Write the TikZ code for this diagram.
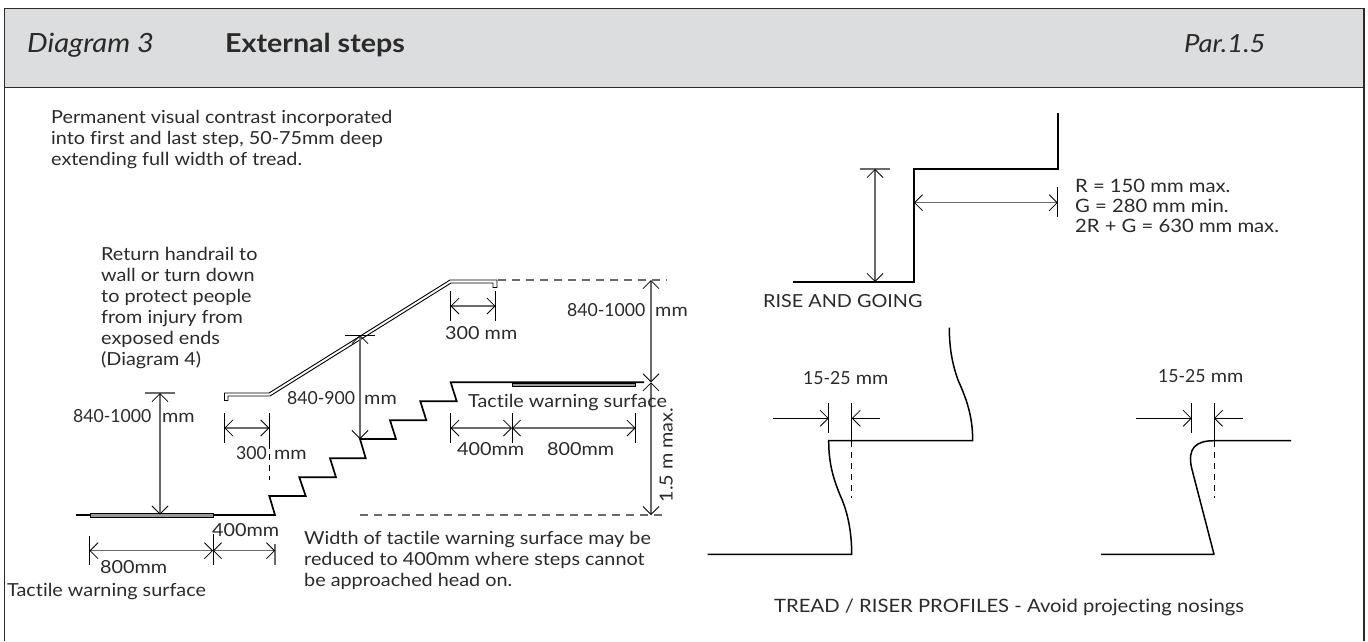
\documentclass[tikz,border=0pt]{standalone}
\usepackage{fontspec}
\setmainfont[FakeStretch=1.1,Ligatures=NoCommon]{Lato}
\newfontfamily\numfont[FakeStretch=0.98]{Lato}
\usetikzlibrary{arrows.meta}
\definecolor{headgrey}{HTML}{DCDDDE}
\definecolor{ink}{HTML}{2B2A29}
\definecolor{dimgrey}{HTML}{6A6A6A}
\tikzset{
  lbl/.style={anchor=west,inner sep=0pt,text=ink,font=\fontsize{18}{21}\selectfont,text height=13pt,text depth=0pt},
  multi/.style={anchor=north west,inner sep=0pt,text=ink,font=\fontsize{18}{21}\selectfont,align=left},
  heavy/.style={line width=1.7pt,black,line join=miter},
  thinblk/.style={line width=.8pt,black},
  dimln/.style={line width=1.2pt,dimgrey},
  tipb/.tip={Straight Barb[length=8pt,width=16pt,line width=.8pt,color=black]},
  dashln/.style={line width=1.2pt,dimgrey,dash pattern=on 8pt off 6pt},
  shortdash/.style={line width=.8pt,black,dash pattern=on 6pt off 5pt},
  strip/.style={draw=black,line width=.8pt,fill=gray!80},
  headtxt/.style={anchor=west,inner sep=0pt,text=ink,text height=18pt,text depth=0pt},
}
\begin{document}
\begin{tikzpicture}[x=1pt,y=-1pt]
\useasboundingbox (0,0) rectangle (1368,641);
% frame and header
\fill[headgrey] (4.5,8.5) rectangle (1364,87.5);
\draw[line width=1.2pt,ink] (4.5,641) -- (4.5,8.5) -- (1364,8.5) -- (1364,641);
\draw[line width=1.2pt,ink] (4.5,87.5) -- (1364,87.5);
\node[headtxt,font=\fontsize{26.5}{30}\selectfont\itshape] (hd) at (27,43) {Diagram 3};
\node[headtxt,font=\fontsize{26}{30}\selectfont\bfseries] (ti) at (225,43) {External steps};
\node[headtxt,font=\fontsize{25}{30}\selectfont\itshape] (pr) at (1184,43) {Par.1.5};
% top-left notes
\node[multi] (n1) at (51,110) {Permanent visual contrast incorporated\\into first and last step, 50-75mm deep\\extending full width of tread.};
\node[multi] (n2) at (101,247) {Return handrail to\\wall or turn down\\to protect people\\from injury from\\exposed ends\\(Diagram 4)};
\node[multi] (n3) at (304,531.5) {Width of tactile warning surface may be\\reduced to 400mm where steps cannot\\be approached head on.};
% steps
\draw[heavy] (76,515) -- (275,515) -- (269.3,496) -- (305.7,496) -- (299.3,477.3) -- (336,477.3) -- (330,458.3) -- (365.7,458.3) -- (360,439) -- (396,439) -- (390,420.3) -- (426.3,420.3) -- (420.3,401.3) -- (456.7,401.3) -- (450.7,382.3) -- (644,382.3);
\draw[strip] (90,513.5) rectangle (213,517.5);
\draw[strip] (512.3,383) rectangle (635,386.5);
% handrail
\draw[line width=.9pt,black,fill=white] (224.5,393) -- (269,393) -- (450,280) -- (497,280) -- (497,287.5) -- (493,287.5) -- (493,283) -- (451,283) -- (270,396) -- (228,396) -- (228,400.5) -- (224.5,400.5) -- cycle;
% dashed extensions
\draw[dashln] (498,280) -- (667,280);
\draw[dashln] (360,515) -- (667,515);
\draw[shortdash] (269.5,443) -- (269.5,480);
% left 840-1000
\draw[dimln] (145,393) -- (175,393);
\draw[dimln,{tipb}-{tipb}] (160,393) -- (160,514.5);
\node[lbl] (a1) at (73,415.5) {\numfont 840-1000};
\node[lbl] (a2) at (162,415.5) {mm};
% left 300
\draw[thinblk] (224.3,413) -- (224.3,443) (269.3,413) -- (269.3,443);
\draw[dimln,{tipb}-{tipb}] (224.3,428) -- (269.3,428);
\node[lbl] (b1) at (236,453) {\numfont 300};
\node[lbl] (b2) at (274,453) {mm};
% lower 800 / 400
\draw[thinblk] (89.5,536) -- (89.5,565) (213,534) -- (213,565);
\draw[dimln] (275,544) -- (275,565);
\draw[dimln,{tipb}-{tipb}] (89.5,550.7) -- (213,550.7);
\draw[dimln,{tipb}-{tipb}] (213,550.7) -- (275,550.7);
\node[lbl] (c1) at (212,530) {400mm};
\node[lbl] (c2) at (100,567) {800mm};
\node[lbl] (c3) at (7,590) {Tactile warning surface};
% 840-900
\draw[thinblk] (345,335) -- (375,335);
\draw[dimln,{tipb}-{tipb}] (360,335) -- (360,439);
\node[lbl] (d1) at (287,397.5) {\numfont 840-900};
\node[lbl] (d2) at (364,397.5) {mm};
% upper 300
\draw[thinblk] (450.5,291) -- (450.5,321) (495.5,291) -- (495.5,321);
\draw[dimln,{tipb}-{tipb}] (450.5,306) -- (495.5,306);
\node[lbl] (e1) at (445,333) {300 mm};
% right 840-1000 and 1.5 m
\draw[dimln,{tipb}-{tipb}] (651,280) -- (651,382.3);
\draw[dimln,{tipb}-{tipb}] (651,382.3) -- (651,515);
\node[lbl] (f1) at (567,310) {\numfont 840-1000};
\node[lbl] (f2) at (655,310) {mm};
\node[lbl,anchor=center,rotate=90] (f3) at (666,455) {1.5 m max.};
\node[lbl] (f4) at (468,401) {Tactile warning surface};
% upper 400 / 800
\draw[thinblk] (450.5,413) -- (450.5,443) (512,413) -- (512,443) (635.5,413) -- (635.5,443);
\draw[dimln,{tipb}-{tipb}] (450.5,428) -- (512,428);
\draw[dimln,{tipb}-{tipb}] (512,428) -- (635.5,428);
\node[lbl] (g1) at (457,449) {400mm};
\node[lbl] (g2) at (547,449) {800mm};
% rise and going
\draw[heavy] (793.3,282.3) -- (914,282.3) -- (914,169) -- (1057.7,169) -- (1057.7,112.7);
\draw[dimln] (860,169) -- (890,169);
\draw[dimln,{tipb}-{tipb}] (875,169) -- (875,282);
\draw[thinblk] (1057.7,187) -- (1057.7,217);
\draw[dimln,{tipb}-{tipb}] (914,202.7) -- (1057.7,202.7);
\node[multi,font=\fontsize{18.4}{20}\selectfont] (h1) at (1075,179) {R = 150 mm max.\\G = 280 mm min.\\2R + G = 630 mm max.};
\node[lbl] (h2) at (763,301) {RISE AND GOING};
% profile 1
\draw[heavy,line width=1.5pt] (707.7,554.3) -- (851.7,554.3)
  .. controls (851.7,530) and (847,510) .. (840,495)
  .. controls (834,480) and (828.7,465) .. (828.7,440.7)
  -- (972.7,440.7)
  .. controls (972.7,415) and (966,398) .. (958,380)
  .. controls (953,366) and (949.3,350) .. (949.3,327.7);
\draw[thinblk] (828.7,403) -- (828.7,433) (851.7,403) -- (851.7,440.7);
\draw[shortdash] (851.7,441) -- (851.7,498);
\draw[thinblk,-{tipb}] (772.7,418.3) -- (828.7,418.3);
\draw[thinblk,-{tipb}] (880,418.3) -- (851.7,418.3);
\node[lbl] (i1) at (803,378) {{\numfont 15-25} mm};
% profile 2
\draw[heavy,line width=1.5pt,line join=round] (1101,554.3) -- (1214,554.3) -- (1191.7,468.3)
  .. controls (1187,448) and (1196,440.7) .. (1214,440.7) -- (1291,440.7);
\draw[thinblk] (1191.7,403) -- (1191.7,433) (1214,403) -- (1214,440.7);
\draw[shortdash] (1214,441) -- (1214,498);
\draw[thinblk,-{tipb}] (1135.7,418.3) -- (1191.7,418.3);
\draw[thinblk,-{tipb}] (1242.7,418.3) -- (1214,418.3);
\node[lbl] (j1) at (1158,376) {{\numfont 15-25} mm};
\node[lbl,font=\fontsize{18.4}{21}\selectfont] (j2) at (774,606) {TREAD / RISER PROFILES - Avoid projecting nosings};
\end{tikzpicture}
\end{document}
